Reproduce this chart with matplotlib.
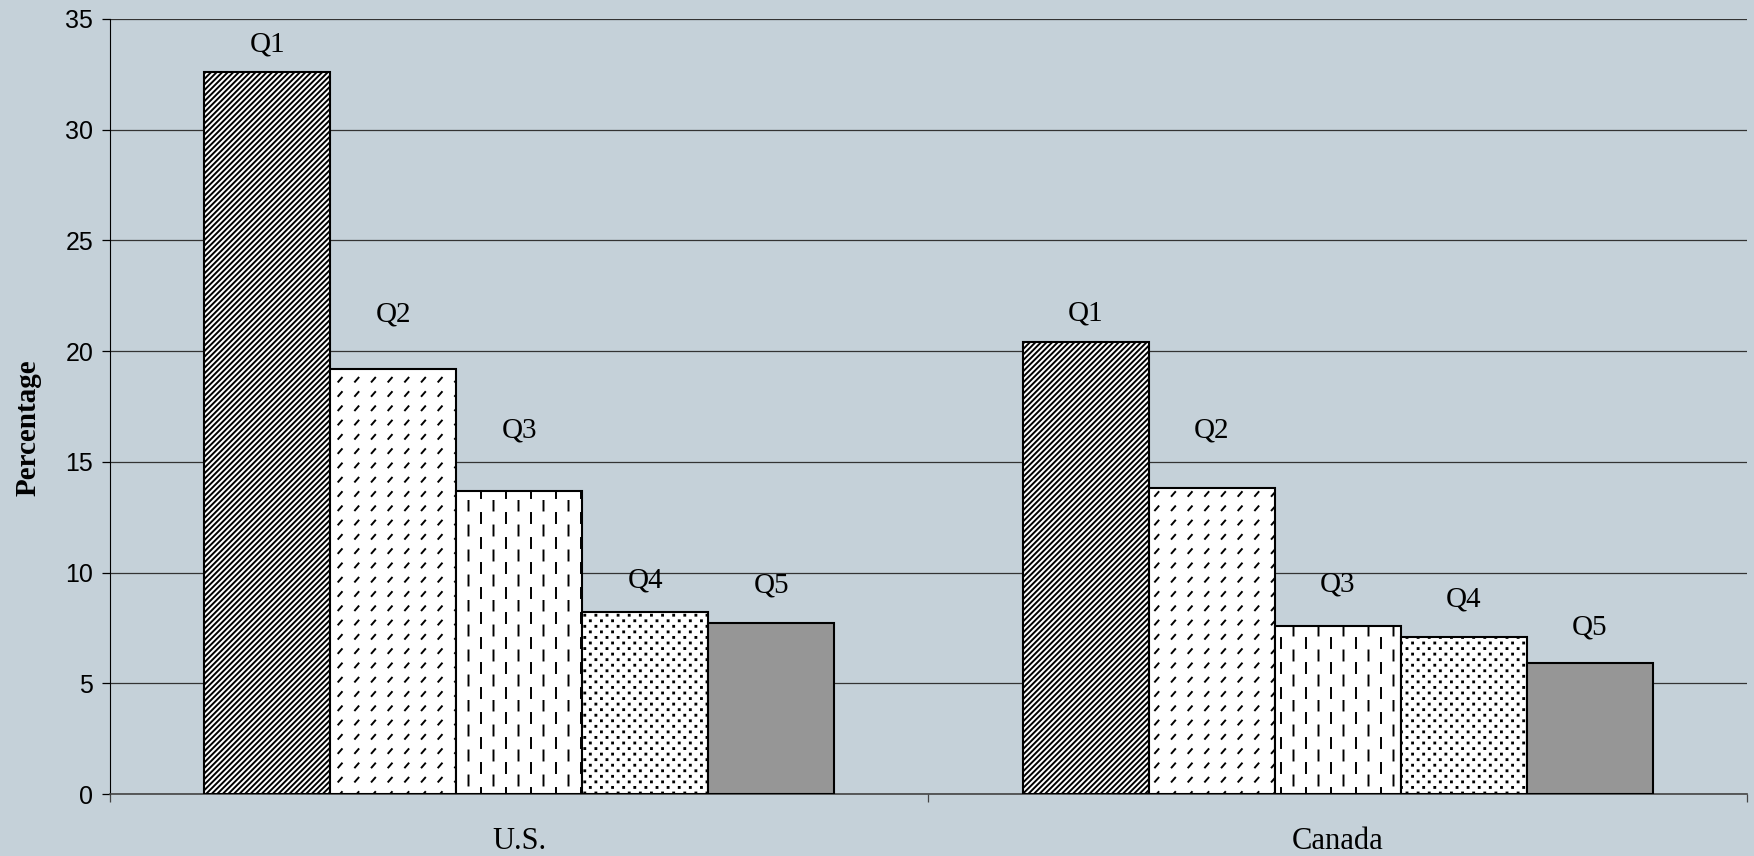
import warnings
import numpy as np
import matplotlib
matplotlib.use('Agg')
import matplotlib.pyplot as plt
from matplotlib import hatch as mhatch
from matplotlib.path import Path

warnings.filterwarnings('ignore')

countries = ['U.S.', 'Canada']
quintiles = ['Q1', 'Q2', 'Q3', 'Q4', 'Q5']
us_pct = [32.6, 19.2, 13.7, 8.2, 7.7]
canada_pct = [20.4, 13.8, 7.6, 7.1, 5.9]

# how far each Q label sits above its bar (points), as placed in the original
label_lift = [[20, 39, 43, 23, 27], [21, 42, 30, 27, 26]]


class TextureHatch(mhatch.HatchPatternBase):
    # d = short diagonal dashes, v = staggered vertical dashes, p = small dots
    def __init__(self, hatch, density):
        self.marks = []
        if 'd' in hatch:
            for i in range(6):
                for j in range(7):
                    x, y = i / 6 + 0.05, j / 7 + 0.04
                    self.marks.append([(x, y), (x + 0.035, y + 0.04)])
        if 'v' in hatch:
            for i in range(8):
                for j in range(4):
                    x = i / 8 + 0.06
                    y = j / 4 + 0.02 + (0.125 if i % 2 else 0)
                    self.marks.append([(x, y), (x, y + 0.1)])
        if 'p' in hatch:
            s = 0.009
            for i in range(9):
                for j in range(9):
                    for off in (0, 0.5):
                        x, y = (i + off) / 9 + 0.01, (j + off) / 9 + 0.01
                        self.marks.append([(x, y), (x + s, y), (x + s, y + s), (x, y + s), (x, y)])
        self.num_vertices = sum(len(m) for m in self.marks)

    def set_vertices_and_codes(self, vertices, codes):
        k = 0
        for m in self.marks:
            n = len(m)
            vertices[k:k + n] = m
            codes[k] = Path.MOVETO
            codes[k + 1:k + n] = Path.LINETO
            if n == 5:
                codes[k + n - 1] = Path.CLOSEPOLY
            k += n


mhatch._hatch_types.append(TextureHatch)

plt.rcParams['hatch.linewidth'] = 1.4
plt.rcParams['hatch.color'] = 'black'

bg = '#c5d1d9'
hatches = ['//////', 'd', 'v', 'p', None]
fills = ['white', 'white', 'white', 'white', '#969696']

fig = plt.figure(figsize=(17.54, 8.56), dpi=100, facecolor=bg)
ax = fig.add_axes([0.0627, 0.0724, 0.9333, 0.9056], facecolor=bg)

x = np.arange(len(countries))
width = 0.154
values = np.array([us_pct, canada_pct])
for k, q in enumerate(quintiles):
    pos = x + (k - 2) * width
    bars = ax.bar(pos, values[:, k], width, color=fills[k], edgecolor='black',
                  linewidth=1.5, hatch=hatches[k], zorder=3)
    for c, b in enumerate(bars):
        ax.annotate(q, (b.get_x() + b.get_width() / 2, b.get_height()),
                    xytext=(0, label_lift[c][k]), textcoords='offset points',
                    ha='center', va='center', fontsize=21, family='Liberation Serif')

ax.set_xlim(-0.5, 1.5)
ax.set_ylim(0, 35)
ax.set_yticks(np.arange(0, 36, 5))
ax.yaxis.grid(True, color='#333333', linewidth=0.9)
ax.set_axisbelow(True)
for s in ['top', 'right']:
    ax.spines[s].set_visible(False)
ax.spines['left'].set_color('black')
ax.spines['bottom'].set_color('#444444')
ax.spines['bottom'].set_linewidth(1.2)

ax.tick_params(axis='y', direction='out', length=6, width=0.9, labelsize=18, pad=6)
for t in ax.get_yticklabels():
    t.set_family('Liberation Sans')

ax.set_xticks([-0.5, 0.5, 1.5])
ax.set_xticklabels([])
ax.tick_params(axis='x', which='major', direction='out', length=6, width=0.9, color='#444444')
ax.set_xticks(x, minor=True)
ax.set_xticklabels(countries, minor=True, fontsize=22, family='Liberation Serif')
ax.tick_params(axis='x', which='minor', length=0, pad=24)

ax.set_ylabel('Percentage', fontsize=21, fontweight='bold', family='Liberation Serif')
ax.yaxis.set_label_coords(-0.042, 0.473)

plt.savefig('out.png', dpi=100, facecolor=bg)
